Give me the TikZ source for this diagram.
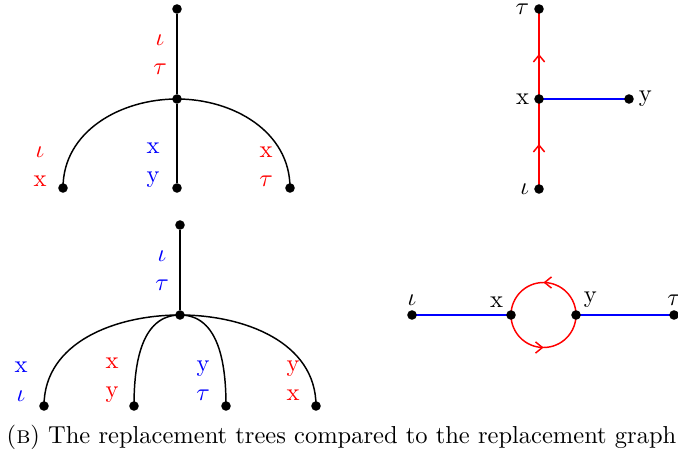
\documentclass[tikz,border=0pt]{standalone}
\usepackage{amsmath,amssymb}
\usepackage{xcolor}
\usepackage{tikz}
\usetikzlibrary{arrows.meta, decorations.markings, backgrounds}

\tikzset{
  vertex/.style={circle,fill=black,inner sep=0pt,minimum size=3.9pt},
  edgelbl/.style={align=center,inner sep=0pt},
  treeedge/.style={semithick},
  every label/.style={inner sep=1pt},
  midarrow/.style={postaction={decorate},
    decoration={markings,mark=at position 0.5 with {\arrow{Straight Barb[length=2.8pt,width=4.6pt]}}}}
}

\begin{document}
\begin{tikzpicture}[x=0.408pt,y=0.408pt,label distance=0.7pt]
  \useasboundingbox (0,0) rectangle (678,460);

  % Top tree
  \node[vertex] (r1) at (177,451) {};
  \node[vertex] (m1) at (177,361) {};
  \node[vertex] (a1) at (63,272) {};
  \node[vertex] (b1) at (177,272) {};
  \node[vertex] (c1) at (290,272) {};
  \begin{scope}[on background layer]
    \draw[treeedge] (r1) -- (m1) -- (b1);
    \draw[treeedge] (m1.center) to[out=180,in=90] (a1.center);
    \draw[treeedge] (m1.center) to[out=0,in=90] (c1.center);
  \end{scope}
  \node[edgelbl,red]  (lr1) at (160,405) {$\iota$\\$\tau$};
  \node[edgelbl,red]  (la1) at (40,293)  {$\iota$\\x};
  \node[edgelbl,blue] (lb1) at (153,295) {x\\y};
  \node[edgelbl,red]  (lc1) at (266,293) {x\\$\tau$};

  % Bottom tree
  \node[vertex] (r2) at (180,235) {};
  \node[vertex] (m2) at (180,145) {};
  \node[vertex] (a2) at (44,54) {};
  \node[vertex] (b2) at (134,54) {};
  \node[vertex] (c2) at (226,54) {};
  \node[vertex] (d2) at (316,54) {};
  \begin{scope}[on background layer]
    \draw[treeedge] (r2) -- (m2);
    \draw[treeedge] (m2.center) to[out=180,in=90] (a2.center);
    \draw[treeedge] (m2.center) to[out=180,in=90] (b2.center);
    \draw[treeedge] (m2.center) to[out=0,in=90] (c2.center);
    \draw[treeedge] (m2.center) to[out=0,in=90] (d2.center);
  \end{scope}
  \node[edgelbl,blue] (lr2) at (162,189.5) {$\iota$\\$\tau$};
  \node[edgelbl,blue] (la2) at (21,78)     {x\\$\iota$};
  \node[edgelbl,red]  (lb2) at (112,79.5)  {x\\y};
  \node[edgelbl,blue] (lc2) at (203,79)    {y\\$\tau$};
  \node[edgelbl,red]  (ld2) at (293,79)    {y\\x};

  % Replacement graph (top)
  \node[vertex,label=left:$\tau$] (t3) at (539,451) {};
  \node[vertex,label=left:x]      (x3) at (539,361) {};
  \node[vertex,label=right:y]     (y3) at (629,361) {};
  \node[vertex,label=left:$\iota$] (i3) at (539,271) {};
  \begin{scope}[on background layer]
    \draw[semithick,red,midarrow] (i3.center) -- (x3.center);
    \draw[semithick,red,midarrow] (x3.center) -- (t3.center);
    \draw[semithick,blue] (x3.center) -- (y3.center);
  \end{scope}

  % Replacement graph (bottom)
  \node[vertex,label=above:$\iota$] (i4) at (412,145) {};
  \node[vertex,label=above left:x]  (x4) at (511,145) {};
  \node[vertex,label=above right:y] (y4) at (576,145) {};
  \node[vertex,label=above:$\tau$]  (t4) at (674,145) {};
  \begin{scope}[on background layer]
    \draw[semithick,blue] (i4.center) -- (x4.center);
    \draw[semithick,blue] (y4.center) -- (t4.center);
    \draw[semithick,red,midarrow] (y4.center) arc[start angle=0,end angle=180,radius=32.5];
    \draw[semithick,red,midarrow] (x4.center) arc[start angle=180,end angle=360,radius=32.5];
  \end{scope}

  % Caption
  \node (cap) at (341.5,23) {(\textsc{b}) The replacement trees compared to the replacement graph};
\end{tikzpicture}
\end{document}
